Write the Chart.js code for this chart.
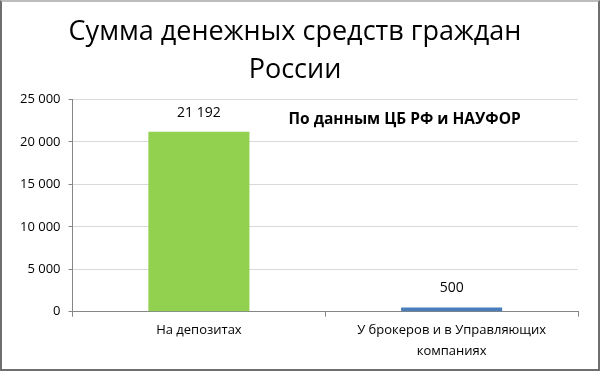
<!DOCTYPE html>
<html>
<head>
<meta charset="utf-8">
<script src="https://cdn.jsdelivr.net/npm/chart.js@4"></script>
<style>
    html, body { margin: 0; padding: 0; background: #fff; }
    #wrap {
        position: relative;
        width: 600px;
        height: 371px;
        box-sizing: border-box;
        border: 2px solid #6e6e6e;
        border-top-color: #bdbdbd;
    }
    canvas { display: block; }
</style>
</head>
<body>
<div id="wrap"><canvas id="chart" width="596" height="367"></canvas></div>
<script>
const categories = ['На депозитах', ['У брокеров и в Управляющих', 'компаниях']];
const amounts = [21192, 500];
const barColors = ['#92D050', '#4A7EBB'];
const titleLines = ['Сумма денежных средств граждан', 'России'];
const sourceNote = 'По данным ЦБ РФ и НАУФОР';

function fmt(v) {
    return String(v).replace(/\B(?=(\d{3})+(?!\d))/g, ' ');
}

// value labels above bars + the source note
const labelsPlugin = {
    id: 'labelsPlugin',
    afterDatasetsDraw(chart) {
        const ctx = chart.ctx;
        const meta = chart.getDatasetMeta(0);
        ctx.save();
        ctx.font = '14px "Open Sans", sans-serif';
        ctx.fillStyle = '#000';
        ctx.textAlign = 'center';
        ctx.textBaseline = 'middle';
        meta.data.forEach((bar, i) => {
            ctx.fillText(fmt(amounts[i]), bar.x, bar.y - 19);
        });
        const area = chart.chartArea;
        ctx.font = 'bold 15.5px "Open Sans", sans-serif';
        ctx.textAlign = 'left';
        ctx.fillText(sourceNote, area.left + 216, area.top + 20);
        ctx.restore();
    }
};

new Chart(document.getElementById('chart'), {
    type: 'bar',
    data: {
        labels: categories,
        datasets: [{
            data: amounts,
            backgroundColor: barColors,
            barPercentage: 0.4,
            categoryPercentage: 1
        }]
    },
    options: {
        responsive: false,
        animation: false,
        layout: { padding: { top: 12, right: 20, left: 10, bottom: 4 } },
        plugins: {
            legend: { display: false },
            tooltip: { enabled: false },
            title: {
                display: true,
                text: titleLines,
                color: '#000',
                font: { family: '"Open Sans", sans-serif', size: 27, weight: 'normal', lineHeight: 1.38 },
                padding: { top: 0, bottom: 11 }
            }
        },
        scales: {
            x: {
                grid: { display: true, drawOnChartArea: false, tickLength: 5, color: '#868686', offset: true },
                border: { color: '#868686' },
                ticks: { color: '#000', font: { family: '"Open Sans", sans-serif', size: 13, lineHeight: 1.55 }, padding: 4, maxRotation: 0 }
            },
            y: {
                min: 0,
                max: 25000,
                ticks: {
                    stepSize: 5000,
                    color: '#000',
                    font: { family: '"Open Sans", sans-serif', size: 13 },
                    padding: 8,
                    callback: v => fmt(v)
                },
                grid: { color: '#d9d9d9', tickLength: 4, tickColor: '#868686' },
                border: { color: '#868686' }
            }
        }
    },
    plugins: [labelsPlugin]
});
</script>
</body>
</html>
